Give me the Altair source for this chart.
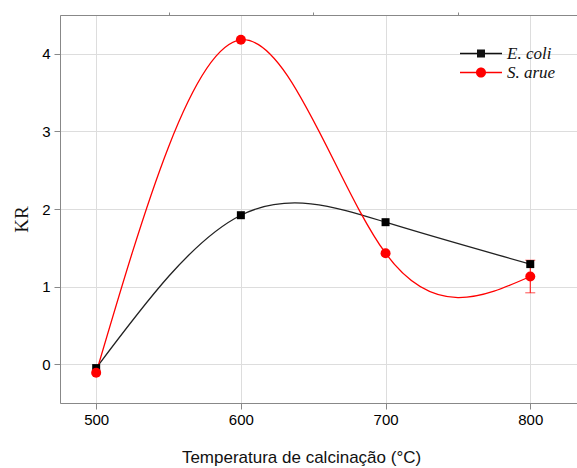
import altair as alt
import pandas as pd

# Calcination temperature (°C) and KR measured for each bacterium
temps = [500, 600, 700, 800]
ecoli_kr = [-0.05, 1.92, 1.83, 1.29]
sarue_kr = [-0.11, 4.18, 1.43, 1.13]
sarue_err = [0.0, 0.0, 0.0, 0.21]

series_names = ["E. coli", "S. arue"]
series_colors = ["#111111", "#ff0000"]

x_major = [500, 600, 700, 800]
x_minor = [550, 650, 750]
y_major = [0, 1, 2, 3, 4]
y_minor = [-0.5, 0.5, 1.5, 2.5, 3.5, 4.5]

ecoli = pd.DataFrame({"serie": "E. coli", "temp": temps, "kr": ecoli_kr})
sarue = pd.DataFrame({"serie": "S. arue", "temp": temps, "kr": sarue_kr, "err": sarue_err})
allrows = pd.concat([ecoli, sarue], ignore_index=True)

xscale = alt.Scale(domain=[475, 832.3], nice=False, zero=False)
yscale = alt.Scale(domain=[-0.5, 4.5], nice=False, zero=False)

# main axes: labelled major ticks
x_main = alt.Axis(
    values=x_major,
    tickSize=6,
    title="Temperatura de calcinação (°C)",
    titleFont="Liberation Sans",
    titleFontSize=17,
    titleFontWeight="normal",
    titleColor="#111",
    titleX=241,
    titleY=59,
    titleAnchor="start",
    titleAlign="center",
    titleBaseline="alphabetic",
    labelFontSize=15,
    labelPadding=3,
)
y_main = alt.Axis(
    values=y_major,
    tickSize=6,
    title="KR",
    titleFont="Liberation Serif",
    titleFontSize=19,
    titleFontWeight="normal",
    titleColor="#111",
    titleX=-33,
    titleY=204,
    titleAngle=-90,
    titleAlign="center",
    titleBaseline="alphabetic",
    labelFontSize=15,
    labelPadding=4,
)
# minor ticks: short, no labels, no domain line
x_min = alt.Axis(values=x_minor, tickSize=3, labels=False, domain=False, title=None)
y_min = alt.Axis(values=y_minor, tickSize=3, labels=False, domain=False, title=None)
# top frame line
x_top = alt.Axis(orient="top", labels=False, ticks=False, title=None, values=x_major)

def xq(axis=None, field="temp:Q"):
    return alt.X(field, scale=xscale, axis=axis)

def yq(axis=None, field="kr:Q"):
    return alt.Y(field, scale=yscale, axis=axis)

line_sarue = alt.Chart(sarue).mark_line(
    interpolate="natural", color="#ff0000", strokeWidth=1.3
).encode(x=xq(x_min), y=yq(y_min))
line_ecoli = alt.Chart(ecoli).mark_line(
    interpolate="natural", color="#222222", strokeWidth=1.3
).encode(x=xq(x_main), y=yq(y_main))

# error bar of S. arue (vertical rule plus caps)
err_base = alt.Chart(sarue).transform_filter("datum.err > 0").transform_calculate(
    lo="datum.kr - datum.err", hi="datum.kr + datum.err"
)
err_rule = err_base.mark_rule(color="#ff0000", strokeWidth=1).encode(
    x=xq(x_top), y=yq(None, "lo:Q"), y2="hi:Q"
)
err_lo = err_base.mark_tick(orient="horizontal", color="#ff0000", size=10, thickness=1).encode(
    x=xq(), y=yq(None, "lo:Q")
)
err_hi = err_base.mark_tick(orient="horizontal", color="#ff0000", size=10, thickness=1).encode(
    x=xq(), y=yq(None, "hi:Q")
)

pts_ecoli = alt.Chart(ecoli).mark_point(
    shape="square", filled=True, size=64, color="#000000", opacity=1
).encode(x=xq(), y=yq())
pts_sarue = alt.Chart(sarue).mark_point(
    shape="circle", filled=True, size=100, color="#ff0000", opacity=1
).encode(x=xq(), y=yq())

# legend symbols: a short line with the series marker in its middle
legend_paths = [
    "M-3,-0.067H1V0.067H-3Z M-1.38,-0.38H-0.62V0.38H-1.38Z",
    "M-3,-0.067H1V0.067H-3Z M-0.52,0A0.48,0.48,0,1,1,-1.48,0A0.48,0.48,0,1,1,-0.52,0Z",
]
legend_opts = dict(
    title=None,
    orient="none",
    legendX=421,
    legendY=28,
    padding=0,
    rowPadding=0,
    labelOffset=5,
    labelFont="Liberation Serif",
    labelFontStyle="italic",
    labelFontSize=17,
    labelColor="#111",
    symbolSize=441,
    symbolStrokeWidth=0,
    symbolOpacity=1,
)
legend_layer = alt.Chart(allrows).transform_filter("false").mark_point(
    filled=True, size=441, opacity=1
).encode(
    color=alt.Color(
        "serie:N",
        scale=alt.Scale(domain=series_names, range=series_colors),
        legend=alt.Legend(**legend_opts),
    ),
    shape=alt.Shape(
        "serie:N",
        scale=alt.Scale(domain=series_names, range=legend_paths),
        legend=alt.Legend(**legend_opts),
    ),
)

chart = (
    alt.layer(line_ecoli, line_sarue, err_rule, err_lo, err_hi, pts_ecoli, pts_sarue, legend_layer)
    .resolve_axis(x="independent", y="independent")
    .properties(
        width=517,
        height=388,
        autosize=alt.AutoSizeParams(type="none"),
        padding={"left": 60, "top": 15, "right": 0, "bottom": 65},
    )
    .configure_view(stroke=None)
    .configure_axis(
        grid=False,
        domainColor="#333333",
        domainWidth=1.3,
        tickColor="#333333",
        tickWidth=1.2,
        labelFont="Liberation Serif",
        labelColor="#222222",
    )
    .configure(background="white")
)

chart.save("out.html", embed_options={"renderer": "svg", "actions": False})
